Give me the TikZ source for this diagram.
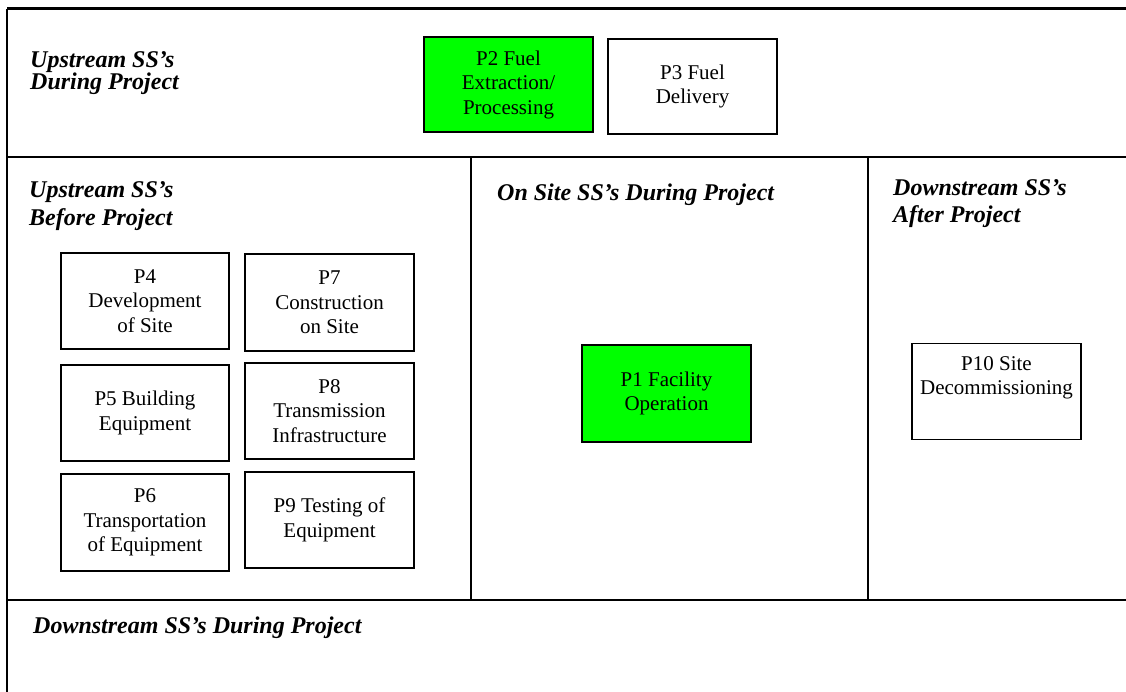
\documentclass[tikz,border=0pt]{standalone}
\usepackage{fontspec}
\setmainfont{Liberation Serif}
\definecolor{boxgreen}{RGB}{0,255,0}
\tikzset{
  frameline/.style={line width=2pt, black},
  procbox/.style={draw=black, line width=1.8pt, rectangle, inner sep=0pt, align=center,
    font=\fontsize{21}{24.5}\selectfont},
  greenbox/.style={procbox, fill=boxgreen},
  title/.style={anchor=base west, inner sep=0pt, align=left,
    font=\fontsize{24}{27.5}\selectfont\bfseries\itshape}
}
\begin{document}
\begin{tikzpicture}[x=1pt,y=-1pt]
\useasboundingbox (0,0) rectangle (1126,692);
% frame
\coordinate (tl) at (7,9);
\coordinate (tr) at (1126,9);
\coordinate (bl) at (7,692);
\coordinate (h1l) at (7,157);
\coordinate (h1r) at (1126,157);
\coordinate (h2l) at (7,600);
\coordinate (h2r) at (1126,600);
\coordinate (v1t) at (471,157);
\coordinate (v1b) at (471,600);
\coordinate (v2t) at (868,157);
\coordinate (v2b) at (868,600);
\draw[line width=3pt] (tl) -- (tr);
\draw[line width=2.6pt] (tl) -- (bl);
\draw[frameline] (h1l) -- (h1r);
\draw[frameline] (h2l) -- (h2r);
\draw[frameline] (v1t) -- (v1b);
\draw[frameline] (v2t) -- (v2b);
% titles (multi-line nodes: base = last line's baseline)
\node[title, font=\fontsize{24}{22}\selectfont\bfseries\itshape] (t1) at (30,90) {Upstream SS’s\\During Project};
\node[title, font=\fontsize{24}{28}\selectfont\bfseries\itshape] (t2) at (29,226) {Upstream SS’s\\Before Project};
\node[title] (t3) at (497,201) {On Site SS’s During Project};
\node[title, font=\fontsize{24}{27}\selectfont\bfseries\itshape] (t4) at (893,223) {Downstream SS’s\\After Project};
\node[title] (t5) at (33,633) {Downstream SS’s During Project};
% boxes
\node[greenbox, minimum width=169pt, minimum height=95pt] (p2) at (508.5,84.5) {P2 Fuel\\Extraction/\\Processing};
\node[procbox, minimum width=169pt, minimum height=95pt] (p3) at (692.5,86.5) {P3 Fuel\\Delivery};
\node[procbox, minimum width=168pt, minimum height=96pt] (p4) at (145,301) {P4\\Development\\of Site};
\node[procbox, minimum width=169pt, minimum height=97pt] (p7) at (329.5,302.5) {P7\\Construction\\on Site};
\node[procbox, minimum width=168pt, minimum height=96pt] (p5) at (145,413) {P5 Building\\Equipment};
\node[procbox, minimum width=169pt, minimum height=96pt] (p8) at (329.5,411) {P8\\Transmission\\Infrastructure};
\node[procbox, minimum width=168pt, minimum height=97pt] (p6) at (145,522.5) {P6\\Transportation\\of Equipment};
\node[procbox, minimum width=169pt, minimum height=96pt] (p9) at (329.5,520) {P9 Testing of\\Equipment};
\node[greenbox, minimum width=169pt, minimum height=97pt] (p1) at (666.5,393.5) {P1 Facility\\Operation};
\node[procbox, minimum width=169pt, minimum height=96pt] (p10) at (996.5,391.5) {P10 Site\\Decommissioning\\\strut};
\end{tikzpicture}
\end{document}
